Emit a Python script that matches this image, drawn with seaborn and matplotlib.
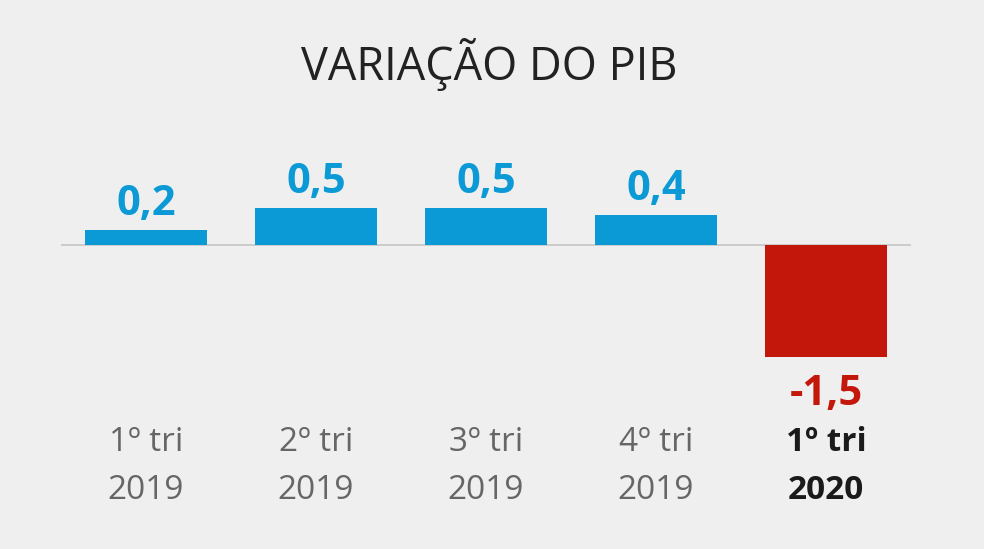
import matplotlib.pyplot as plt
import seaborn as sns
import pandas as pd

# PIB quarterly variation (%)
quarters = ["1º tri\n2019", "2º tri\n2019", "3º tri\n2019", "4º tri\n2019", "1º tri\n2020"]
values = [0.2, 0.5, 0.5, 0.4, -1.5]
value_labels = ["0,2", "0,5", "0,5", "0,4", "-1,5"]

blue = "#0b9ad6"
red = "#c4170c"
bg = "#efefef"
bar_colors = [blue if v >= 0 else red for v in values]

sns.set_theme(style="white", rc={"figure.facecolor": bg, "axes.facecolor": bg})
plt.rcParams["font.family"] = ["Open Sans", "DejaVu Sans"]

df = pd.DataFrame({"trimestre": quarters, "variacao": values})

fig = plt.figure(figsize=(9.84, 5.49), dpi=100)
# axes in pixel terms: x 61..911, y 100..400 from top
ax = fig.add_axes([61 / 984, (549 - 400) / 549, 850 / 984, 300 / 549])

sns.barplot(data=df, x="trimestre", y="variacao", hue="trimestre",
            palette=bar_colors, legend=False, width=0.718, saturation=1,
            linewidth=0, ax=ax)

px_per_unit = 74.5
ax.set_ylim(-155 / px_per_unit, 145 / px_per_unit)
ax.set_xlim(-0.5, 4.5)
ax.axhline(0, color="#cccccc", lw=1.4, zorder=0)

for i, (v, lab) in enumerate(zip(values, value_labels)):
    if v >= 0:
        off = 15 * 0.72
    else:
        off = -48 * 0.72
    ax.annotate(lab, (i, v), xytext=(0, off), textcoords="offset points",
                ha="center", va="baseline", fontsize=30, fontweight="bold",
                color=bar_colors[i])

for s in ax.spines.values():
    s.set_visible(False)
ax.set_yticks([])
ax.set_xlabel("")
ax.set_ylabel("")
ax.tick_params(axis="x", length=0, pad=19)
ax.set_xticks(range(len(quarters)))
ax.set_xticklabels(quarters, fontsize=24, color="#666666", linespacing=1.6)
last = ax.get_xticklabels()[-1]
last.set_fontweight("bold")
last.set_color("#1a1a1a")

fig.text(0.4975, (549 - 80) / 549, "VARIAÇÃO DO PIB", ha="center", va="baseline",
         fontsize=32.5, color="#222222")

fig.savefig("out.png", dpi=100, facecolor=bg)
